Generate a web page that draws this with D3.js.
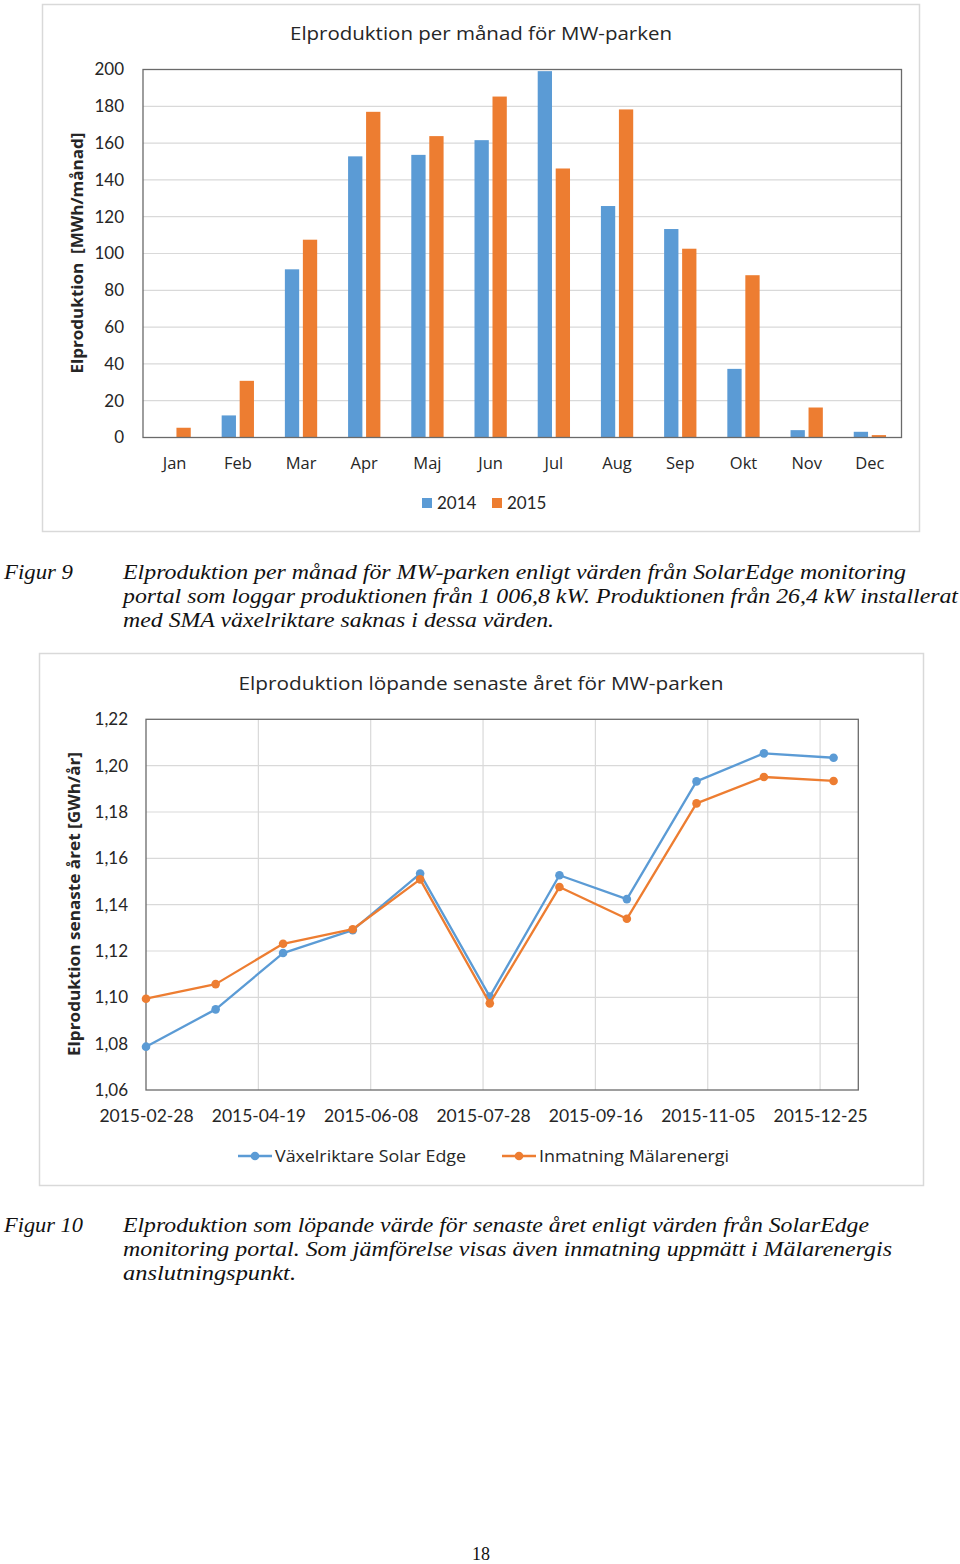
<!DOCTYPE html>
<html>
<head>
<meta charset="utf-8">
<script src="https://cdn.jsdelivr.net/npm/d3@7"></script>
<style>
html,body{margin:0;padding:0;background:#fff;}
svg{display:block;}
</style>
</head>
<body>
<svg id="page" width="960" height="1564"></svg>
<script>
// ---------- DATA ----------
const months = ["Jan","Feb","Mar","Apr","Maj","Jun","Jul","Aug","Sep","Okt","Nov","Dec"];
const series = ["2014","2015"];
const prod2014 = [0, 12, 91.4, 152.8, 153.6, 161.6, 199.1, 125.8, 113.3, 37.3, 4.0, 3.1];
const prod2015 = [5.3, 30.8, 107.5, 177, 163.8, 185.3, 146.2, 178.3, 102.6, 88.2, 16.3, 1.3];
const barYTicks = [0,20,40,60,80,100,120,140,160,180,200];

const lineDates = ["2015-02-28","2015-03-31","2015-04-30","2015-05-31","2015-06-30","2015-07-31","2015-08-31","2015-09-30","2015-10-31","2015-11-30","2015-12-31"];
const solarEdge = [1.0787, 1.0948, 1.1191, 1.129, 1.1534, 1.1003, 1.1527, 1.1424, 1.1932, 1.2053, 1.2034];
const malarenergi = [1.0994, 1.1057, 1.1231, 1.1294, 1.1509, 1.0974, 1.1476, 1.1339, 1.1837, 1.1951, 1.1934];
const lineSeries = ["Växelriktare Solar Edge","Inmatning Mälarenergi"];
const lineYTicks = [1.06,1.08,1.10,1.12,1.14,1.16,1.18,1.20,1.22];
const xTickDates = ["2015-02-28","2015-04-19","2015-06-08","2015-07-28","2015-09-16","2015-11-05","2015-12-25"];
const xDomain = ["2015-02-28","2016-01-11"];

const caption9 = ["Elproduktion per månad för MW-parken enligt värden från SolarEdge monitoring",
  "portal som loggar produktionen från 1 006,8 kW. Produktionen från 26,4 kW installerat",
  "med SMA växelriktare saknas i dessa värden."];
const caption10 = ["Elproduktion som löpande värde för senaste året enligt värden från SolarEdge",
  "monitoring portal. Som jämförelse visas även inmatning uppmätt i Mälarenergis",
  "anslutningspunkt."];

// ---------- STYLE ----------
const BLUE = "#5B9BD5", ORANGE = "#ED7D31";
const FONT = "'Open Sans', Lato, sans-serif";
const NUMFONT = "Lato, 'Open Sans', sans-serif";
const SERIF = "'Liberation Serif', 'DejaVu Serif', serif";
const TXT = "#262626";
const GRID = "#d9d9d9";
const FRAME = "#6a6a6a";

const svg = d3.select("#page");

// ================= CHART 1 (bars) =================
const c1 = svg.append("g");
c1.append("rect").attr("x",42.5).attr("y",4.5).attr("width",877).attr("height",527)
  .attr("fill","#fff").attr("stroke","#d9d9d9").attr("stroke-width",1.5);
c1.append("text").attr("x",481).attr("y",40).attr("text-anchor","middle")
  .attr("font-family",FONT).attr("font-size",19).attr("fill",TXT)
  .attr("textLength",382).attr("lengthAdjust","spacingAndGlyphs")
  .text("Elproduktion per månad för MW-parken");

const p1 = {l:143, r:901.5, t:69.5, b:437.5};
const x0 = d3.scaleBand().domain(months).range([p1.l,p1.r]).padding(0);
const x1 = d3.scaleBand().domain(series).range([-16.15,16.15]).paddingInner(0.2056).paddingOuter(0);
const y1 = d3.scaleLinear().domain([0,200]).range([p1.b,p1.t]);

// gridlines
c1.append("g").selectAll("line").data(barYTicks.filter(d=>d>0 && d<200)).join("line")
  .attr("x1",p1.l).attr("x2",p1.r).attr("y1",d=>y1(d)).attr("y2",d=>y1(d))
  .attr("stroke",GRID).attr("stroke-width",1.2);

// y axis labels via d3 axis
const yAx1 = c1.append("g").attr("transform",`translate(${p1.l},0)`)
  .call(d3.axisLeft(y1).tickValues(barYTicks).tickSize(0).tickPadding(19));
yAx1.select(".domain").remove();
yAx1.selectAll("text").attr("font-family",NUMFONT).attr("font-size",17).attr("fill",TXT);

// bars
const rows = months.map((m,i)=>({m, vals:[{s:"2014",v:prod2014[i]},{s:"2015",v:prod2015[i]}]}));
const gCat = c1.append("g").selectAll("g").data(rows).join("g")
  .attr("transform",d=>`translate(${x0(d.m)+x0.bandwidth()/2},0)`);
gCat.selectAll("rect").data(d=>d.vals).join("rect")
  .attr("x",d=>x1(d.s)).attr("width",x1.bandwidth())
  .attr("y",d=>y1(d.v)).attr("height",d=>y1(0)-y1(d.v))
  .attr("fill",d=>d.s==="2014"?BLUE:ORANGE);

// frame
c1.append("rect").attr("x",p1.l).attr("y",p1.t).attr("width",p1.r-p1.l).attr("height",p1.b-p1.t)
  .attr("fill","none").attr("stroke",FRAME).attr("stroke-width",1.3);

// x axis labels
const xAx1 = c1.append("g").attr("transform",`translate(0,${p1.b})`)
  .call(d3.axisBottom(x0).tickSize(0).tickPadding(20));
xAx1.select(".domain").remove();
xAx1.selectAll("text").attr("font-family",FONT).attr("font-size",16.5).attr("fill",TXT);

// y title
c1.append("text").attr("transform","translate(83,253) rotate(-90)").attr("text-anchor","middle")
  .attr("font-family",FONT).attr("font-size",16).attr("font-weight","bold").attr("fill",TXT)
  .attr("xml:space","preserve").attr("textLength",241).attr("lengthAdjust","spacingAndGlyphs")
  .text("Elproduktion  [MWh/månad]");

// legend
const leg1 = c1.append("g");
const legX1 = [422, 492];
series.forEach((s,i)=>{
  leg1.append("rect").attr("x",legX1[i]).attr("y",498).attr("width",10).attr("height",10)
    .attr("fill",i===0?BLUE:ORANGE);
  leg1.append("text").attr("x",legX1[i]+15).attr("y",509).attr("font-family",NUMFONT)
    .attr("font-size",17).attr("fill",TXT).text(s);
});

// ================= CAPTIONS =================
function caption(label, labelW, lines, y0, widths){
  svg.append("text").attr("x",4).attr("y",y0).attr("font-family",SERIF).attr("font-style","italic")
    .attr("font-size",21).attr("fill","#111")
    .attr("textLength",labelW).attr("lengthAdjust","spacingAndGlyphs").text(label);
  lines.forEach((t,i)=>{
    svg.append("text").attr("x",123).attr("y",y0+i*24.2).attr("font-family",SERIF)
      .attr("font-style","italic").attr("font-size",21).attr("fill","#111")
      .attr("textLength",widths[i]).attr("lengthAdjust","spacingAndGlyphs").text(t);
  });
}
caption("Figur 9", 69, caption9, 579, [783, 835, 431]);
caption("Figur 10", 79, caption10, 1232, [746, 769, 173]);

// ================= CHART 2 (lines) =================
const c2 = svg.append("g");
c2.append("rect").attr("x",39.5).attr("y",653.5).attr("width",884).attr("height",532)
  .attr("fill","#fff").attr("stroke","#d9d9d9").attr("stroke-width",1.5);
c2.append("text").attr("x",481).attr("y",690).attr("text-anchor","middle")
  .attr("font-family",FONT).attr("font-size",19).attr("fill",TXT)
  .attr("textLength",485).attr("lengthAdjust","spacingAndGlyphs")
  .text("Elproduktion löpande senaste året för MW-parken");

const p2 = {l:146, r:858.3, t:719.3, b:1090};
const parse = d3.utcParse("%Y-%m-%d");
const x2 = d3.scaleUtc().domain(xDomain.map(parse)).range([p2.l,p2.r]);
const y2 = d3.scaleLinear().domain([1.06,1.22]).range([p2.b,p2.t]);

// grid
c2.append("g").selectAll("line").data(lineYTicks.slice(1,-1)).join("line")
  .attr("x1",p2.l).attr("x2",p2.r).attr("y1",d=>y2(d)).attr("y2",d=>y2(d))
  .attr("stroke",GRID).attr("stroke-width",1.2);
c2.append("g").selectAll("line").data(xTickDates.slice(1).map(parse)).join("line")
  .attr("x1",d=>x2(d)).attr("x2",d=>x2(d)).attr("y1",p2.t).attr("y2",p2.b)
  .attr("stroke",GRID).attr("stroke-width",1.2);

const fmtComma = d => d3.format(".2f")(d).replace(".",",");
const yAx2 = c2.append("g").attr("transform",`translate(${p2.l},0)`)
  .call(d3.axisLeft(y2).tickValues(lineYTicks).tickFormat(fmtComma).tickSize(0).tickPadding(18));
yAx2.select(".domain").remove();
yAx2.selectAll("text").attr("font-family",NUMFONT).attr("font-size",17).attr("fill",TXT);

const xAx2 = c2.append("g").attr("transform",`translate(0,${p2.b})`)
  .call(d3.axisBottom(x2).tickValues(xTickDates.map(parse)).tickFormat(d3.utcFormat("%Y-%m-%d")).tickSize(0).tickPadding(20));
xAx2.select(".domain").remove();
xAx2.selectAll("text").attr("font-family",NUMFONT).attr("font-size",17.5).attr("fill",TXT);

// frame
c2.append("rect").attr("x",p2.l).attr("y",p2.t).attr("width",p2.r-p2.l).attr("height",p2.b-p2.t)
  .attr("fill","none").attr("stroke",FRAME).attr("stroke-width",1.3);

const lineData = [
  {name:lineSeries[0], color:BLUE, vals:lineDates.map((d,i)=>({d:parse(d), v:solarEdge[i]}))},
  {name:lineSeries[1], color:ORANGE, vals:lineDates.map((d,i)=>({d:parse(d), v:malarenergi[i]}))}
];
const line = d3.line().x(d=>x2(d.d)).y(d=>y2(d.v));
lineData.forEach(s=>{
  c2.append("path").datum(s.vals).attr("d",line).attr("fill","none")
    .attr("stroke",s.color).attr("stroke-width",2.3).attr("stroke-linejoin","round");
  c2.append("g").selectAll("circle").data(s.vals).join("circle")
    .attr("cx",d=>x2(d.d)).attr("cy",d=>y2(d.v)).attr("r",4.3).attr("fill",s.color);
});

// legend
const legX2 = [238, 502];
const legW2 = [191, 190];
lineData.forEach((s,i)=>{
  const g = c2.append("g");
  g.append("line").attr("x1",legX2[i]).attr("x2",legX2[i]+34).attr("y1",1156).attr("y2",1156)
    .attr("stroke",s.color).attr("stroke-width",2.3);
  g.append("circle").attr("cx",legX2[i]+17).attr("cy",1156).attr("r",4.3).attr("fill",s.color);
  g.append("text").attr("x",legX2[i]+37).attr("y",1162).attr("font-family",FONT)
    .attr("font-size",17).attr("fill",TXT)
    .attr("textLength",legW2[i]).attr("lengthAdjust","spacingAndGlyphs").text(s.name);
});

// y title
c2.append("text").attr("transform","translate(80,904) rotate(-90)").attr("text-anchor","middle")
  .attr("font-family",FONT).attr("font-size",16).attr("font-weight","bold").attr("fill",TXT)
  .attr("textLength",304).attr("lengthAdjust","spacingAndGlyphs")
  .text("Elproduktion senaste året [GWh/år]");

// page number
svg.append("text").attr("x",481).attr("y",1560).attr("text-anchor","middle")
  .attr("font-family",SERIF).attr("font-size",18).attr("fill","#111").text("18");
</script>
</body>
</html>
